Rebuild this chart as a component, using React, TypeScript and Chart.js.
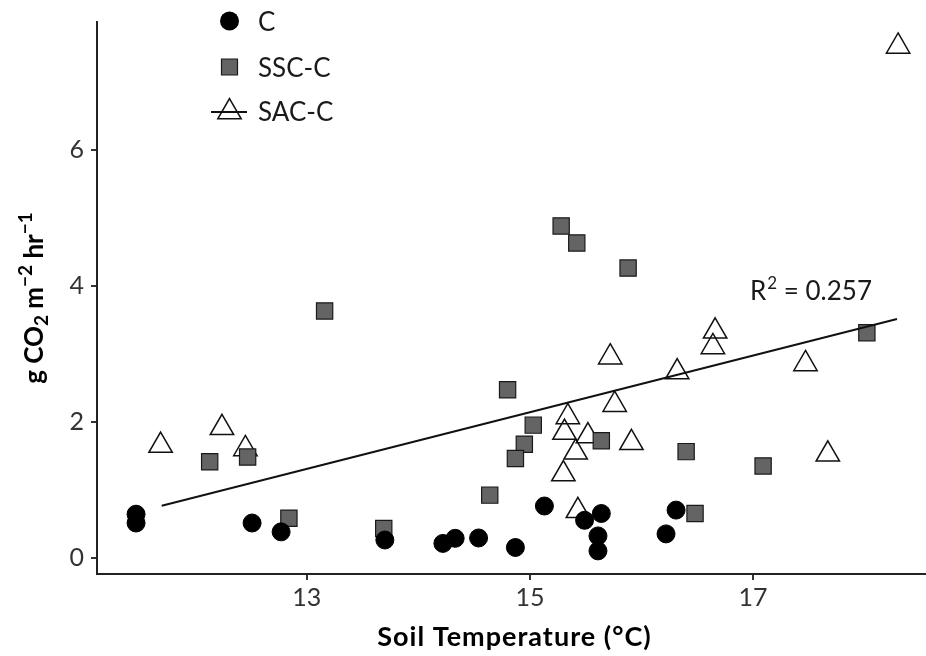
import React, { useEffect, useRef } from "react";
import { Chart, registerables } from "chart.js";

Chart.register(...registerables);

// ---- data ----
const cX = [11.47, 11.47, 12.51, 12.77, 13.70, 14.22, 14.33, 14.54, 14.87, 15.13, 15.49, 15.64, 15.61, 15.61, 16.31, 16.22];
const cY = [0.64, 0.51, 0.51, 0.38, 0.26, 0.21, 0.285, 0.29, 0.15, 0.76, 0.55, 0.65, 0.32, 0.10, 0.70, 0.35];

const sscX = [12.13, 12.47, 12.84, 13.69, 13.16, 14.80, 15.03, 14.95, 14.87, 14.64, 15.64, 16.40, 16.48, 15.28, 15.42, 15.88, 18.02, 17.09];
const sscY = [1.41, 1.48, 0.58, 0.43, 3.63, 2.47, 1.95, 1.67, 1.46, 0.92, 1.72, 1.56, 0.65, 4.88, 4.63, 4.26, 3.31, 1.35];

const sacX = [11.69, 12.24, 12.45, 15.34, 15.31, 15.52, 15.41, 15.30, 15.43, 15.76, 15.91, 15.72, 16.32, 16.66, 16.64, 17.47, 17.67, 18.30];
const sacY = [1.65, 1.91, 1.60, 2.07, 1.84, 1.79, 1.55, 1.23, 0.69, 2.25, 1.69, 2.95, 2.73, 3.33, 3.10, 2.85, 1.52, 7.52];

const fitX = [11.70, 18.29];
const fitY = [0.765, 3.51];

const xTicks = [13, 15, 17];
const yTicks = [0, 2, 4, 6];

const legendLabels = ["C", "SSC-C", "SAC-C"];
const xTitle = "Soil Temperature (°C)";
const r2Label = "0.257";

const FONT = "Lato, 'Open Sans', sans-serif";

const pts = (xs: number[], ys: number[]) => xs.map((x, i) => ({ x, y: ys[i] }));

function drawTri(ctx: CanvasRenderingContext2D, x: number, y: number, r: number) {
  ctx.beginPath();
  let rad = 0;
  for (let k = 0; k < 3; k++) {
    const px = x + Math.sin(rad) * r;
    const py = y - Math.cos(rad) * r;
    if (k === 0) ctx.moveTo(px, py);
    else ctx.lineTo(px, py);
    rad += (2 * Math.PI) / 3;
  }
  ctx.closePath();
}

const decorPlugin = {
  id: "decor",
  afterDraw(chart: any) {
    const ctx: CanvasRenderingContext2D = chart.ctx;
    const area = chart.chartArea;
    ctx.save();

    // ---- legend ----
    const lx = 229.5;
    const rows = [21, 67, 112];
    ctx.beginPath();
    ctx.arc(lx, rows[0], 9.5, 0, Math.PI * 2);
    ctx.fillStyle = "#000";
    ctx.fill();
    ctx.fillStyle = "#646464";
    ctx.strokeStyle = "#1a1a1a";
    ctx.lineWidth = 1.2;
    ctx.beginPath();
    ctx.rect(lx - 8, rows[1] - 8, 16, 16);
    ctx.fill();
    ctx.stroke();
    ctx.strokeStyle = "#111";
    ctx.lineWidth = 2;
    ctx.beginPath();
    ctx.moveTo(211, rows[2]);
    ctx.lineTo(247, rows[2]);
    ctx.stroke();
    ctx.lineWidth = 1.5;
    drawTri(ctx, lx, rows[2], 13.5);
    ctx.stroke();

    ctx.fillStyle = "#1a1a1a";
    ctx.font = `26px ${FONT}`;
    ctx.textAlign = "left";
    ctx.textBaseline = "alphabetic";
    ctx.fillText(legendLabels[0], 258, 31);
    ctx.fillText(legendLabels[1], 258, 77);
    ctx.fillText(legendLabels[2], 258, 120.5);

    // ---- R² annotation ----
    let ax = 750;
    const ay = 300;
    ctx.font = `26px ${FONT}`;
    ctx.fillText("R", ax, ay);
    ax += ctx.measureText("R").width;
    ctx.font = `17px ${FONT}`;
    ctx.fillText("2", ax + 1, ay - 11);
    ax += ctx.measureText("2").width + 1;
    ctx.font = `26px ${FONT}`;
    ctx.fillText(" = " + r2Label, ax, ay);

    // ---- x title ----
    ctx.font = `bold 27px ${FONT}`;
    (ctx as any).letterSpacing = "1px";
    ctx.textAlign = "center";
    ctx.fillStyle = "#000";
    ctx.fillText(xTitle, (area.left + area.right) / 2 + 3, 646);
    (ctx as any).letterSpacing = "0px";

    // ---- y title (rotated, with sub/superscripts) ----
    const parts: [string, number, number][] = [
      ["g CO", 26, 0],
      ["2", 19, 5],
      [" m", 26, 0],
      ["\u22122", 19, -11],
      [" hr", 26, 0],
      ["\u22121", 19, -11],
    ];
    let total = 0;
    for (const [t, s] of parts) {
      ctx.font = `bold ${s}px ${FONT}`;
      total += ctx.measureText(t).width;
    }
    ctx.translate(43, (area.top + area.bottom) / 2);
    ctx.rotate(-Math.PI / 2);
    ctx.textAlign = "left";
    let tx = -total / 2;
    for (const [t, s, dy] of parts) {
      ctx.font = `bold ${s}px ${FONT}`;
      ctx.fillText(t, tx, dy);
      tx += ctx.measureText(t).width;
    }
    ctx.restore();
  },
};

const zeroPad = (s: any) => {
  s.paddingLeft = 0;
  s.paddingRight = 0;
  s.paddingTop = 0;
  s.paddingBottom = 0;
};

export default function App() {
  const ref = useRef<HTMLCanvasElement | null>(null);

  useEffect(() => {
    if (!ref.current) return;
    const tickFont = { family: FONT, size: 25 };
    const chart = new Chart(ref.current, {
      type: "scatter",
      data: {
        datasets: [
          {
            label: "fit",
            data: pts(fitX, fitY),
            showLine: true,
            borderColor: "#111",
            borderWidth: 2,
            pointRadius: 0,
            order: 0,
          } as any,
          {
            label: legendLabels[0],
            data: pts(cX, cY),
            pointStyle: "circle",
            pointRadius: 9,
            backgroundColor: "#000",
            borderColor: "#000",
            borderWidth: 1,
            order: 1,
          },
          {
            label: legendLabels[1],
            data: pts(sscX, sscY),
            pointStyle: "rect",
            pointRadius: 11.5,
            backgroundColor: "#646464",
            borderColor: "#1a1a1a",
            borderWidth: 1.2,
            order: 2,
          },
          {
            label: legendLabels[2],
            data: pts(sacX, sacY),
            pointStyle: "triangle",
            pointRadius: 13.5,
            backgroundColor: "rgba(0,0,0,0)",
            borderColor: "#111",
            borderWidth: 1.5,
            order: 3,
          },
        ],
      },
      options: {
        animation: false,
        responsive: false,
        devicePixelRatio: 1,
        events: [],
        layout: { autoPadding: false, padding: { top: 22, right: 0, left: 0, bottom: 0 } },
        plugins: { legend: { display: false }, tooltip: { enabled: false } },
        scales: {
          x: {
            type: "linear",
            min: 11.12,
            max: 18.55,
            afterBuildTicks: (s: any) => {
              s.ticks = xTicks.map((v) => ({ value: v }));
            },
            afterFit: (s: any) => {
              s.height = 82;
              zeroPad(s);
            },
            ticks: {
              font: tickFont,
              color: "#333",
              padding: 3,
              maxRotation: 0,
              autoSkip: false,
              callback: (v: any) => String(v),
            },
            grid: { drawOnChartArea: false, drawTicks: true, tickLength: 6, color: "#333", lineWidth: 2 },
            border: { display: true, color: "#222", width: 2 },
          },
          y: {
            type: "linear",
            min: -0.24,
            max: 7.88,
            afterBuildTicks: (s: any) => {
              s.ticks = yTicks.map((v) => ({ value: v }));
            },
            afterFit: (s: any) => {
              s.width = 97;
              zeroPad(s);
            },
            ticks: {
              font: tickFont,
              color: "#333",
              padding: 7,
              autoSkip: false,
              callback: (v: any) => String(v),
            },
            grid: { drawOnChartArea: false, drawTicks: true, tickLength: 6, color: "#333", lineWidth: 2 },
            border: { display: true, color: "#222", width: 2 },
          },
        },
      } as any,
      plugins: [decorPlugin],
    });
    return () => chart.destroy();
  }, []);

  return (
    <div style={{ position: "fixed", left: 0, top: 0, width: 926, height: 656, background: "#fff" }}>
      <canvas ref={ref} width={926} height={656} />
    </div>
  );
}
